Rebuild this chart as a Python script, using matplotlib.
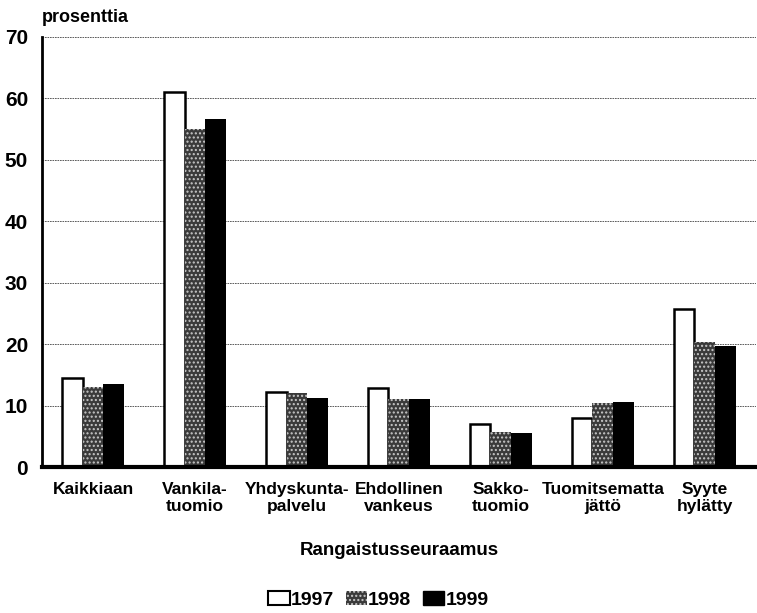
import matplotlib.pyplot as plt
import numpy as np
from matplotlib.patches import Patch
from matplotlib import font_manager

# data
categories = ['Kaikkiaan', 'Vankila-\ntuomio', 'Yhdyskunta-\npalvelu', 'Ehdollinen\nvankeus',
              'Sakko-\ntuomio', 'Tuomitsematta\njättö', 'Syyte\nhylätty']
years = ['1997', '1998', '1999']
v1997 = [14.5, 61.0, 12.2, 12.8, 7.0, 8.0, 25.8]
v1998 = [13.1, 55.0, 12.1, 11.0, 5.7, 10.4, 20.4]
v1999 = [13.5, 56.6, 11.2, 11.0, 5.6, 10.6, 19.7]
yticks = [0, 10, 20, 30, 40, 50, 60, 70]

names = {f.name for f in font_manager.fontManager.ttflist}
family = 'Liberation Sans Narrow' if 'Liberation Sans Narrow' in names else 'Liberation Sans'
plt.rcParams['font.family'] = [family, 'DejaVu Sans']
plt.rcParams['font.weight'] = 'bold'
plt.rcParams['hatch.linewidth'] = 1.0

fig = plt.figure(figsize=(7.57, 6.13), dpi=100)
ax = fig.add_axes([0.0555, 0.238, 0.943, 0.702])

x = np.arange(len(categories))
w = 0.205
ax.bar(x - w, v1997, w, facecolor='white', edgecolor='black', linewidth=1.8, zorder=3)
ax.bar(x, v1998, w, facecolor='#3a3a3a', edgecolor='#c8c8c8', hatch='....', linewidth=0, zorder=3)
ax.bar(x + w, v1999, w, facecolor='black', edgecolor='black', linewidth=0, zorder=3)

ax.set_xlim(-0.5, len(categories) - 0.5)
ax.set_ylim(0, 70)
ax.set_yticks(yticks)
ax.set_yticklabels([str(t) for t in yticks], fontsize=15, fontweight='bold')
ax.set_xticks(x)
ax.set_xticklabels(categories, fontsize=12.5, fontweight='bold', linespacing=1.15)
ax.tick_params(axis='x', length=0, pad=11)
ax.tick_params(axis='y', length=0, pad=10)
ax.yaxis.grid(True, linestyle=(0, (2, 1)), color='#444444', linewidth=0.6, zorder=0)

for s in ['top', 'right']:
    ax.spines[s].set_visible(False)
ax.spines['left'].set_linewidth(2)
ax.spines['bottom'].set_linewidth(3)
ax.spines['bottom'].set_zorder(4)

ax.set_xlabel('Rangaistusseuraamus', fontsize=13.5, fontweight='bold', labelpad=20)
fig.text(0.055, 0.958, 'prosenttia', fontsize=13, fontweight='bold', ha='left', va='bottom')

handles = [Patch(facecolor='white', edgecolor='black', linewidth=1.5),
           Patch(facecolor='#3a3a3a', edgecolor='#c8c8c8', hatch='....', linewidth=0),
           Patch(facecolor='black', edgecolor='black')]
fig.legend(handles, years, loc='lower center', bbox_to_anchor=(0.5, -0.022), ncol=3,
           frameon=False, handlelength=1.1, handleheight=0.7,
           handletextpad=0.05, columnspacing=0.6, prop={'weight': 'bold', 'size': 14})

fig.savefig('out.png', dpi=100)
